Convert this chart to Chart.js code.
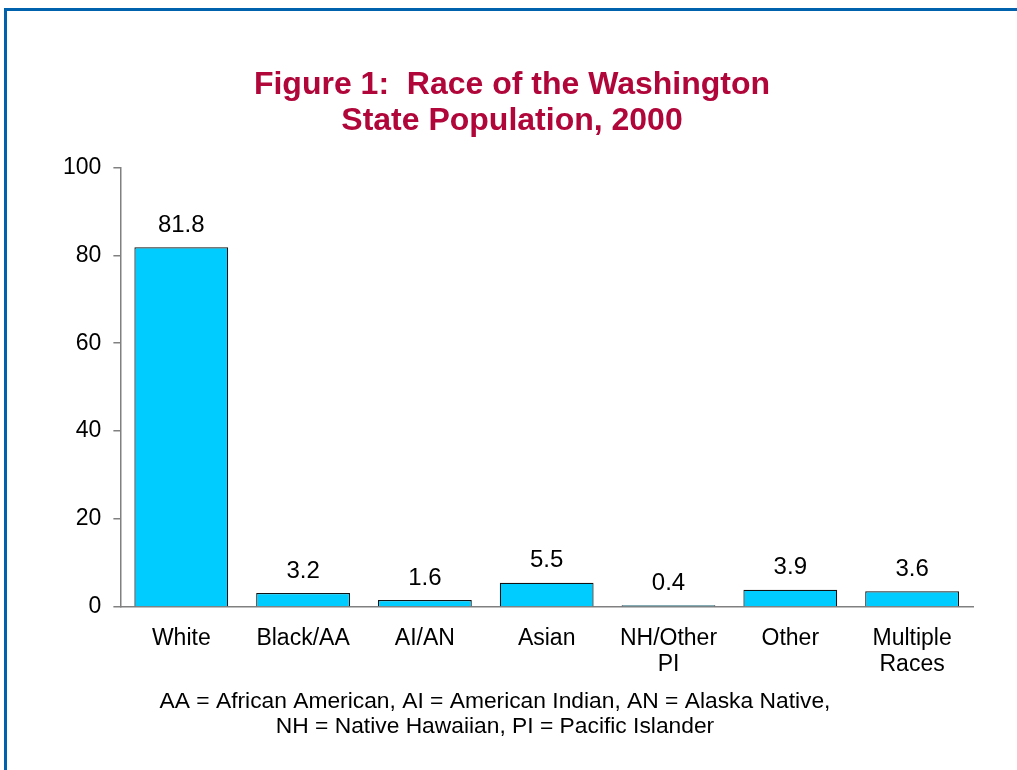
<!DOCTYPE html>
<html>
<head>
<meta charset="utf-8">
<script src="https://cdn.jsdelivr.net/npm/chart.js@4.4.0/dist/chart.umd.min.js"></script>
<style>
  html, body { margin: 0; padding: 0; background: #fff; overflow: hidden; }
  #frame {
    position: absolute; left: 4px; top: 8px; width: 2000px; height: 2000px;
    border-left: 3px solid #0062ad; border-top: 3px solid #0062ad;
  }
  #wrap { position: absolute; left: 0; top: 0; width: 1017px; height: 770px; }
</style>
</head>
<body>
<div id="frame"></div>
<div id="wrap"><canvas id="raceChart" width="1017" height="770"></canvas></div>
<script>
const categories = ["White", "Black/AA", "AI/AN", "Asian", ["NH/Other", "PI"], "Other", ["Multiple", "Races"]];
const percents = [81.8, 3.2, 1.6, 5.5, 0.4, 3.9, 3.6];
const yTicks = [0, 20, 40, 60, 80, 100];
const titleLines = ["Figure 1:  Race of the Washington", "State Population, 2000"];
const footnoteLines = ["AA = African American, AI = American Indian, AN = Alaska Native,", "NH = Native Hawaiian, PI = Pacific Islander"];

const FONT = "'Liberation Sans', Arial, sans-serif";

// draw the value above each bar
const valueLabels = {
    id: "valueLabels",
    afterDatasetsDraw(chart) {
        const ctx = chart.ctx;
        const meta = chart.getDatasetMeta(0);
        ctx.save();
        ctx.font = "24px " + FONT;
        ctx.fillStyle = "#000";
        ctx.textAlign = "center";
        ctx.textBaseline = "middle";
        meta.data.forEach((bar, i) => {
            ctx.fillText(percents[i].toFixed(1), bar.x, bar.y - 22);
        });
        ctx.restore();
    }
};

// footnote under the axis labels, a bit left of centre like the original
const footnote = {
    id: "footnote",
    afterDraw(chart) {
        const ctx = chart.ctx;
        ctx.save();
        ctx.font = "22.8px " + FONT;
        ctx.fillStyle = "#000";
        ctx.textAlign = "center";
        ctx.textBaseline = "middle";
        footnoteLines.forEach((line, i) => ctx.fillText(line, 495, 702 + i * 25));
        ctx.restore();
    }
};

new Chart(document.getElementById("raceChart").getContext("2d"), {
    type: "bar",
    data: {
        labels: categories,
        datasets: [{
            data: percents,
            backgroundColor: "#00ccff",
            borderColor: "#111",
            borderWidth: 1.2,
            barPercentage: 0.77,
            categoryPercentage: 1
        }]
    },
    options: {
        responsive: false,
        animation: false,
        layout: { padding: { top: 67, left: 51, right: 44, bottom: 81 } },
        plugins: {
            legend: { display: false },
            tooltip: { enabled: false },
            title: {
                display: true,
                text: titleLines,
                color: "#b0063a",
                font: { family: FONT, size: 32, weight: "bold", lineHeight: 1.13 },
                padding: { top: 0, bottom: 28 }
            }
        },
        scales: {
            x: {
                grid: { display: false },
                border: { color: "#808080", width: 1.5 },
                ticks: {
                    color: "#000",
                    font: { family: FONT, size: 23, lineHeight: 1.13 },
                    padding: 11,
                    maxRotation: 0,
                    autoSkip: false
                }
            },
            y: {
                min: 0,
                max: 100,
                afterBuildTicks: axis => { axis.ticks = yTicks.map(v => ({ value: v })); },
                grid: { drawOnChartArea: false, drawTicks: true, tickLength: 7, color: "#808080", lineWidth: 1.5 },
                border: { color: "#808080", width: 1.5 },
                ticks: {
                    color: "#000",
                    font: { family: FONT, size: 23 },
                    padding: 12
                }
            }
        }
    },
    plugins: [valueLabels, footnote]
});
</script>
</body>
</html>
